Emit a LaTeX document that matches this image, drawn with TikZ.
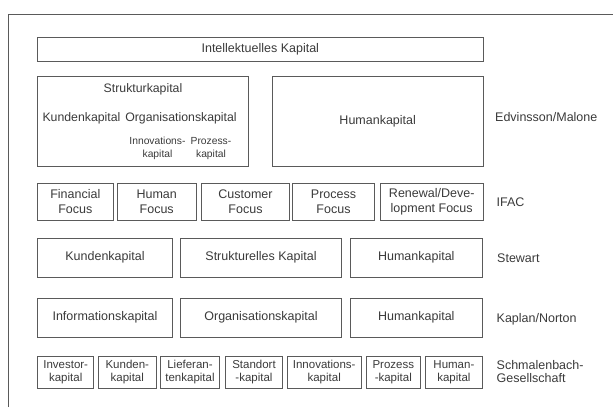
\documentclass[tikz,border=0pt]{standalone}
\usepackage{fontspec}
\setmainfont{Liberation Sans}
\definecolor{txt}{HTML}{3A3A3A}
\definecolor{ln}{HTML}{5A5A5A}
\begin{document}
\begin{tikzpicture}[x=1pt,y=-1pt,
  box/.style={draw=ln,line width=0.8pt,rectangle,inner sep=1pt,align=center,text=txt,
    font=\fontsize{12.5}{15}\selectfont},
  sbox/.style={box,font=\fontsize{11.5}{13.6}\selectfont},
  lbl/.style={text=txt,inner sep=0pt,align=center,font=\fontsize{12.3}{15}\selectfont},
  slbl/.style={lbl,font=\fontsize{10.3}{13.4}\selectfont},
  src/.style={text=txt,inner sep=0pt,anchor=west,align=left,font=\fontsize{12.5}{13.6}\selectfont},
  frame/.style={draw=ln,line width=0.8pt}]
\useasboundingbox (0,0) rectangle (613,407);
% outer frame
\coordinate (fl) at (8.5,407);
\coordinate (fc) at (8.5,14);
\coordinate (fr) at (613,14);
\draw[frame] (fl) -- (fc) -- (fr);
% Edvinsson/Malone
\node[box,minimum width=445.5pt,minimum height=23.5pt] (ik) at (260.3,49.3) {Intellektuelles Kapital};
\node[box,minimum width=211pt,minimum height=90pt] (sk) at (143,121.5) {};
\node[box,minimum width=211pt,minimum height=90pt] (hk) at (377.7,121.5) {Humankapital};
\node[lbl] (skt) at (143,89) {Strukturkapital};
\node[lbl] (kk) at (81.5,118) {Kundenkapital};
\node[lbl] (ok) at (181,118) {Organisationskapital};
\node[slbl] (ik2) at (157.5,148.4) {Innovations-\\kapital};
\node[slbl] (pk) at (211,148.4) {Prozess-\\kapital};
\node[src] (em) at (495,117) {Edvinsson/Malone};
% IFAC
\node[box,minimum width=76pt,minimum height=37.5pt] (ff) at (75.3,202) {Financial\\Focus};
\node[box,minimum width=78.7pt,minimum height=37.5pt] (hf) at (156.7,202) {Human\\Focus};
\node[box,minimum width=87.6pt,minimum height=37.5pt] (cf) at (245.5,202) {Customer\\Focus};
\node[box,minimum width=81.6pt,minimum height=37.5pt] (pf) at (333.5,202) {Process\\Focus};
\node[box,minimum width=103.3pt,minimum height=37.5pt] (rf) at (431.7,202) {Renewal/Deve-\\lopment Focus};
\node[src] (ifac) at (496.5,202) {IFAC};
% Stewart
\node[box,minimum width=134.9pt,minimum height=39pt] (sw1) at (105,257.5) {Kundenkapital};
\node[box,minimum width=160.7pt,minimum height=39pt] (sw2) at (261,257.5) {Strukturelles Kapital};
\node[box,minimum width=131.3pt,minimum height=39pt] (sw3) at (416.3,257.5) {Humankapital};
\node[src] (stw) at (497,258) {Stewart};
% Kaplan/Norton
\node[box,minimum width=134.9pt,minimum height=39pt] (kn1) at (105,317.5) {Informationskapital};
\node[box,minimum width=160.7pt,minimum height=39pt] (kn2) at (261,317.5) {Organisationskapital};
\node[box,minimum width=131.3pt,minimum height=39pt] (kn3) at (416.3,317.5) {Humankapital};
\node[src] (kan) at (496.5,319) {Kaplan/Norton};
% Schmalenbach
\node[sbox,minimum width=56.3pt,minimum height=32.3pt] (s1) at (65.7,372.2) {Investor-\\kapital};
\node[sbox,minimum width=57.5pt,minimum height=32.3pt] (s2) at (127.3,372.2) {Kunden-\\kapital};
\node[sbox,minimum width=58.6pt,minimum height=32.3pt] (s3) at (190,372.2) {Lieferan-\\tenkapital};
\node[sbox,minimum width=56.6pt,minimum height=32.3pt] (s4) at (254,372.2) {Standort\\-kapital};
\node[sbox,minimum width=73.7pt,minimum height=32.3pt] (s5) at (324.2,372.2) {Innovations-\\kapital};
\node[sbox,minimum width=53.2pt,minimum height=32.3pt] (s6) at (393.3,372.2) {Prozess\\-kapital};
\node[sbox,minimum width=56.3pt,minimum height=32.3pt] (s7) at (453.9,372.2) {Human-\\kapital};
\node[src] (smb) at (496.5,371.5) {Schmalenbach-\\Gesellschaft};
\end{tikzpicture}
\end{document}
